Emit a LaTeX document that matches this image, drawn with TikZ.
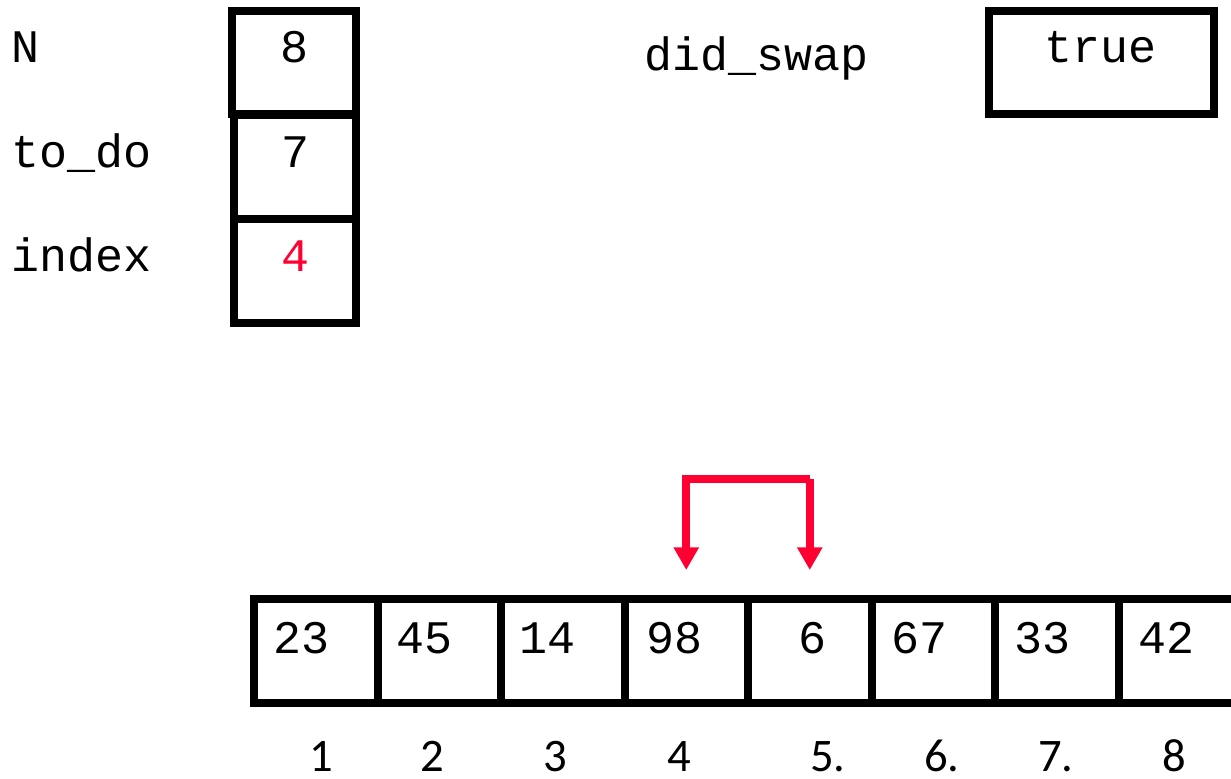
\documentclass[tikz,border=0pt]{standalone}
\usepackage{fontspec}
\usetikzlibrary{arrows.meta}
\newfontfamily\codefont{Liberation Mono}
\newfontfamily\idxfont{Carlito}
\definecolor{swapred}{HTML}{FF0033}
\begin{document}
\begin{tikzpicture}[x=0.75pt, y=-0.75pt,
  varbox/.style={draw, line width=6pt, rectangle, inner sep=0pt},
  code/.style={font=\codefont\fontsize{35}{40}\selectfont, inner sep=0pt, anchor=base},
  codeleft/.style={code, anchor=base west},
  idx/.style={font=\idxfont\fontsize{35}{40}\selectfont, inner sep=0pt, text depth=0pt, anchor=base},
  swapline/.style={draw=swapred, line width=5.8pt, -{Triangle[width=18pt,length=17pt]}}]
\useasboundingbox (0,0) rectangle (1231,778);
\clip (0,0) rectangle (1231,778);

% variables
\node[varbox, minimum width=93pt, minimum height=77.25pt] (nbox) at (294,62.5) {};
\node[varbox, minimum width=91.5pt, minimum height=78pt] (todobox) at (295,167) {};
\node[varbox, minimum width=91.5pt, minimum height=78pt] (idxbox) at (295,271) {};
\node[code] (nval) at (294,62) {8};
\node[code] (todoval) at (295,167) {7};
\node[code, text=swapred] (idxval) at (295,271) {4};
\node[codeleft] (nlab) at (11,62) {N};
\node[codeleft] (todolab) at (11,167) {to\_do};
\node[codeleft] (idxlab) at (11,271) {index};

\node[codeleft] (swaplab) at (644,70) {did\_swap};
\node[varbox, minimum width=168.75pt, minimum height=77.25pt] (swapbox) at (1101.5,62.5) {};
\node[code] (swapval) at (1100,62) {true};

% array cells
\foreach \i in {1,...,8} {
  \node[varbox, minimum width=92.625pt, minimum height=78pt] (c\i) at ({254+123.5*(\i-1)+61.75},651) {};
}
\node[codeleft] (v1) at (273,653) {23};
\node[codeleft] (v2) at (396,653) {45};
\node[codeleft] (v3) at (519,653) {14};
\node[codeleft] (v4) at (646,653) {98};
\node[code] (v5) at (812,653) {6};
\node[codeleft] (v6) at (891,653) {67};
\node[codeleft] (v7) at (1014,653) {33};
\node[codeleft] (v8) at (1138,653) {42};

% positions
\node[idx] (i1) at (321,771) {1};
\node[idx] (i2) at (432,771) {2};
\node[idx] (i3) at (555,771) {3};
\node[idx] (i4) at (679,771) {4};
\node[idx] (i5) at (828,771) {5.};
\node[idx] (i6) at (942,771) {6.};
\node[idx] (i7) at (1056,771) {7.};
\node[idx] (i8) at (1174,771) {8};

% swap marker
\coordinate (bar4) at ([yshift=87pt]c4.north);
\coordinate (bar5) at ([yshift=87pt]c5.north);
\coordinate (tip4) at ([yshift=18.75pt]c4.north);
\coordinate (tip5) at ([yshift=18.75pt]c5.north);
\draw[swapline] (bar5) -- (bar4) -- (tip4);
\draw[swapline] (bar5) -- (tip5);
\end{tikzpicture}
\end{document}
